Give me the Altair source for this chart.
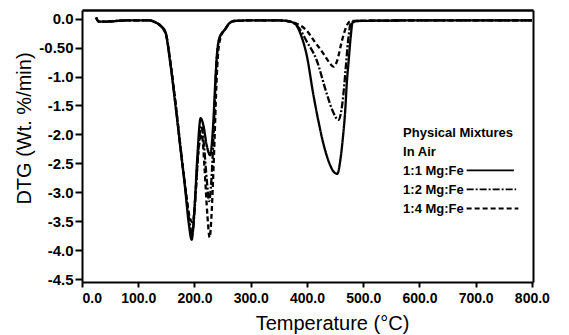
import altair as alt
import pandas as pd

# ---- data ----
t_11 = [25, 30, 40, 60, 80, 100, 120, 130, 140, 148, 156, 165, 174, 183, 190, 195, 200, 205, 211, 216, 222, 228,
        231, 234, 237, 240, 245, 254, 262, 270, 300, 350, 370, 380, 390, 400, 411, 420, 429, 440, 448, 454,
        460, 464, 468, 471, 474, 478, 481, 490, 600, 800]
v_11 = [0.02, -0.05, -0.05, -0.04, -0.03, -0.03, -0.03, -0.06, -0.12, -0.22, -0.70, -1.40, -2.15, -2.90, -3.55, -3.82,
        -3.30, -2.40, -1.72, -1.85, -2.20, -2.36, -2.15, -1.70, -1.10, -0.62, -0.32, -0.19, -0.08, -0.04, -0.03, -0.03,
        -0.05, -0.10, -0.30, -0.65, -1.29, -1.75, -2.15, -2.50, -2.65, -2.68, -2.40, -2.05, -1.60, -1.10, -0.75,
        -0.30, -0.07, -0.04, -0.03, -0.03]

t_12 = [25, 30, 40, 60, 80, 100, 120, 130, 141, 149, 157, 166, 175, 184, 191, 196, 201, 206, 212, 217, 222, 226,
        230, 234, 237, 240, 245, 254, 262, 270, 300, 350, 370, 385, 400, 417, 435, 446, 456, 461, 465, 469,
        473, 478, 485, 600, 800]
v_12 = [0.02, -0.05, -0.05, -0.04, -0.03, -0.03, -0.03, -0.06, -0.14, -0.25, -0.75, -1.45, -2.20, -2.95, -3.50, -3.72,
        -3.20, -2.40, -1.85, -2.20, -2.80, -3.15, -2.80, -2.00, -1.20, -0.62, -0.32, -0.19, -0.08, -0.04, -0.03,
        -0.03, -0.05, -0.15, -0.40, -0.71, -1.29, -1.60, -1.75, -1.60, -1.29, -0.85, -0.40, -0.08, -0.04, -0.03, -0.03]

t_14 = [25, 30, 40, 60, 80, 100, 120, 130, 142, 150, 158, 167, 176, 185, 192, 197, 202, 207, 213, 218, 223, 227,
        230, 233, 236, 239, 242, 247, 255, 263, 272, 300, 350, 370, 385, 399, 414, 429, 440, 447, 454, 461,
        467, 473, 478, 600, 800]
v_14 = [0.02, -0.05, -0.05, -0.04, -0.03, -0.03, -0.03, -0.06, -0.15, -0.30, -0.80, -1.50, -2.30, -3.00, -3.45, -3.52,
        -3.00, -2.30, -2.00, -2.60, -3.40, -3.78, -3.45, -2.80, -2.00, -1.15, -0.60, -0.31, -0.18, -0.07, -0.04,
        -0.03, -0.03, -0.05, -0.10, -0.20, -0.40, -0.60, -0.76, -0.83, -0.72, -0.43, -0.22, -0.08, -0.04, -0.03, -0.03]

series_names = ["1:1  Mg:Fe", "1:2  Mg:Fe", "1:4  Mg:Fe"]
x_ticks = [0, 100, 200, 300, 400, 500, 600, 700, 800]
y_ticks = [0.0, -0.5, -1.0, -1.5, -2.0, -2.5, -3.0, -3.5, -4.0, -4.5]
y_tick_labels = ["0.0", "-0.50", "-1.0", "-1.5", "-2.0", "-2.5", "-3.0", "-3.5", "-4.0", "-4.5"]
legend_header = ["Physical Mixtures", "In Air"]

rows = []
for name, ts, vs in zip(series_names, [t_11, t_12, t_14], [v_11, v_12, v_14]):
    for t, v in zip(ts, vs):
        rows.append({"series": name, "T": t, "DTG": v})
df = pd.DataFrame(rows)

FONT = "Liberation Sans"
X_MIN, X_MAX = 0, 802
Y_MIN, Y_MAX = -4.55, 0.15
xscale = alt.Scale(domain=[X_MIN, X_MAX], nice=False, zero=False)
yscale = alt.Scale(domain=[Y_MIN, Y_MAX], nice=False, zero=False)
dash_scale = alt.Scale(domain=series_names, range=[[1, 0], [7, 2, 2, 2], [5, 3]])

label_expr = " : ".join(
    [f"abs(datum.value - ({v})) < 0.01 ? '{s}'" for v, s in zip(y_ticks, y_tick_labels)]) + " : ''"

xaxis = alt.Axis(values=x_ticks, format=".1f", title="Temperature (°C)", grid=False,
                 tickSize=5, tickWidth=2, domainWidth=2, domainColor="black", tickColor="black",
                 labelFont=FONT, labelFontWeight="bold", labelFontSize=14, labelColor="black",
                 labelPadding=4, labelOverlap=False,
                 titleFont=FONT, titleFontSize=20, titleFontWeight="normal",
                 titleColor="black", titleX=250, titleY=47, titleBaseline="alphabetic",
                 titleAlign="center")
yaxis = alt.Axis(values=y_ticks, title="DTG (Wt. %/min)", grid=False,
                 labelExpr=label_expr,
                 tickSize=7, tickWidth=2, domainWidth=2, domainColor="black", tickColor="black",
                 labelFont=FONT, labelFontWeight="bold", labelFontSize=15, labelColor="black",
                 labelPadding=2, labelOverlap=False, labelSeparation=0,
                 titleFont=FONT, titleFontSize=20, titleFontWeight="normal",
                 titleColor="black", titleX=-52, titleY=118, titleBaseline="alphabetic",
                 titleAlign="center")
# frame edges drawn as bare top / right axes
top_axis = alt.Axis(orient="top", labels=False, ticks=False, grid=False, title=None,
                    domainWidth=2.5, domainColor="black")
right_axis = alt.Axis(orient="right", labels=False, ticks=False, grid=False, title=None,
                      domainWidth=2, domainColor="black")

lines = alt.Chart(df).mark_line(color="black", strokeWidth=2.3, interpolate="monotone", clip=True).encode(
    x=alt.X("T:Q", scale=xscale, axis=xaxis),
    y=alt.Y("DTG:Q", scale=yscale, axis=yaxis),
    strokeDash=alt.StrokeDash("series:N", scale=dash_scale, legend=None),
    detail="series:N",
)

# legend annotation (inside the plot), positioned in data units
lx0 = 571
head_df = pd.DataFrame({"txt": legend_header, "T": [lx0, lx0], "DTG": [-2.04, -2.37]})
key_df = pd.DataFrame({"txt": series_names, "T": [lx0] * 3, "DTG": [-2.70, -3.03, -3.36]})

text_style = dict(align="left", baseline="alphabetic", font=FONT, fontWeight="bold", fontSize=13, color="black")
head = alt.Chart(head_df).mark_text(**text_style).encode(
    x=alt.X("T:Q", scale=xscale, axis=xaxis), y=alt.Y("DTG:Q", scale=yscale, axis=yaxis), text="txt:N")
keys = alt.Chart(key_df).mark_text(**text_style).encode(
    x=alt.X("T:Q", scale=xscale, axis=xaxis), y=alt.Y("DTG:Q", scale=yscale, axis=yaxis), text="txt:N")

seg_df = pd.DataFrame({"series": series_names, "x1": [684, 684, 684], "x2": [768, 772, 776],
                       "y": [-2.62, -2.95, -3.28]})
segs = alt.Chart(seg_df).mark_rule(color="black", strokeWidth=1.8).encode(
    x=alt.X("x1:Q", scale=xscale, axis=xaxis), x2="x2:Q", y=alt.Y("y:Q", scale=yscale, axis=yaxis),
    strokeDash=alt.StrokeDash("series:N", scale=dash_scale, legend=None))

# frame layer: invisible point whose only job is to carry the top / right axes
frame_df = pd.DataFrame({"fx": [X_MIN], "fy": [Y_MIN]})
frame = alt.Chart(frame_df).mark_point(opacity=0).encode(
    x=alt.X("fx:Q", scale=xscale, axis=top_axis),
    y=alt.Y("fy:Q", scale=yscale, axis=right_axis))

main = alt.layer(lines, segs, head, keys)
chart = alt.layer(main, frame).resolve_axis(x="independent", y="independent").properties(
    width=451, height=272,
    autosize=alt.AutoSizeParams(type="none"),
    padding={"left": 82, "top": 10, "right": 36, "bottom": 53},
    background="white",
)

chart.save("out.html", embed_options={"renderer": "svg", "actions": False})
